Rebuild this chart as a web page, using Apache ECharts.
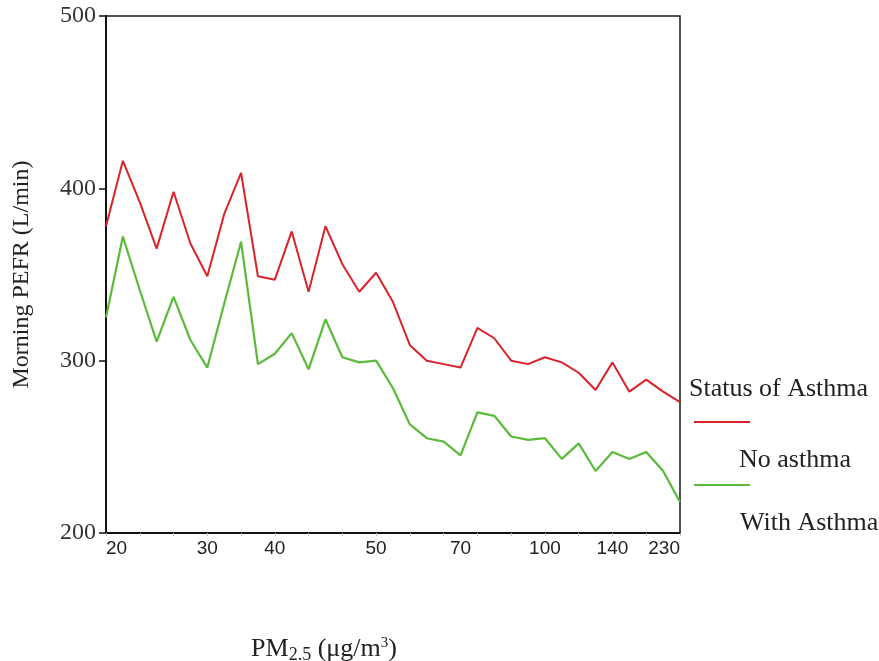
<!DOCTYPE html>
<html>
<head>
<meta charset="utf-8">
<script src="https://cdn.jsdelivr.net/npm/echarts@6/dist/echarts.min.js"></script>
<style>
html,body{margin:0;padding:0;background:#fff;}
#chart{width:879px;height:661px;}
</style>
</head>
<body>
<div id="chart"></div>
<script>
// PM2.5 categories (only some are labelled on the axis)
var pmCategories = ['20','','','','','','30','','','','40','','','','','','50','','','','','70','','','','','100','','','','140','','','','230'];
var noAsthma = [378,416,392,365,398,368,349,385,409,349,347,375,340,378,356,340,351,334,309,300,298,296,319,313,300,298,302,299,293,283,299,282,289,282,276];
var withAsthma = [325,372,341,311,337,312,296,333,369,298,304,316,295,324,302,299,300,284,263,255,253,245,270,268,256,254,255,243,252,236,247,243,247,236,218];
var yTicks = {min:200, max:500, step:100};
var seriesNames = ['No asthma','With Asthma'];
var legendTitle = 'Status of Asthma';

var chart = echarts.init(document.getElementById('chart'), null, {renderer:'canvas'});
var serif = '"Liberation Serif","DejaVu Serif",serif';
var sans = '"Liberation Sans",Arial,sans-serif';
var red = '#d9232b', green = '#5cba3a';

chart.setOption({
  backgroundColor:'#fff',
  animation:false,
  grid:{left:106, right:199, top:16, bottom:128, show:true, borderColor:'#1a1a1a', borderWidth:1.5,
    outerBoundsMode:'none', containLabel:false},
  xAxis:{
    type:'category', data:pmCategories, boundaryGap:false,
    axisLine:{lineStyle:{color:'#111', width:2}},
    axisTick:{show:true, length:3, interval:function(i){return i%2===0;}, lineStyle:{color:'#bbb', width:1}},
    axisLabel:{interval:function(i,v){return v!=='';}, fontFamily:sans, fontSize:19, color:'#222', margin:6,
      alignMinLabel:'left', alignMaxLabel:'right'},
    splitLine:{show:false},
    name:'{n|PM}{sub|2.5}{n| (μg/m}{sup|3}{n|)}',
    nameLocation:'middle', nameGap:102,
    nameTextStyle:{padding:[0,138,0,0], rich:{
      n:{fontFamily:serif, fontSize:26, color:'#222'},
      sub:{fontFamily:serif, fontSize:18, color:'#222', padding:[11,0,0,0]},
      sup:{fontFamily:serif, fontSize:15, color:'#222', padding:[0,0,12,0]}
    }}
  },
  yAxis:{
    type:'value', min:yTicks.min, max:yTicks.max, interval:yTicks.step,
    axisLine:{show:true, lineStyle:{color:'#111', width:2}},
    axisTick:{show:true, length:7, lineStyle:{color:'#111', width:1.5}},
    axisLabel:{fontFamily:serif, fontSize:24, color:'#333', margin:10},
    splitLine:{show:false},
    name:'Morning PEFR (L/min)', nameLocation:'middle', nameGap:72,
    nameTextStyle:{fontFamily:serif, fontSize:24, color:'#222'}
  },
  series:[
    {name:seriesNames[0], type:'line', data:noAsthma, symbol:'none', lineStyle:{color:red, width:2}, itemStyle:{color:red}},
    {name:seriesNames[1], type:'line', data:withAsthma, symbol:'none', lineStyle:{color:green, width:2.2}, itemStyle:{color:green}}
  ],
  graphic:[
    {type:'text', left:689, top:376, style:{text:legendTitle, font:'26px '+serif, fill:'#222'}},
    {type:'line', shape:{x1:694, y1:422, x2:750, y2:422}, style:{stroke:red, lineWidth:2}},
    {type:'text', left:739, top:447, style:{text:seriesNames[0], font:'26px '+serif, fill:'#222'}},
    {type:'line', shape:{x1:694, y1:485, x2:750, y2:485}, style:{stroke:green, lineWidth:2.2}},
    {type:'text', left:740, top:510, style:{text:seriesNames[1], font:'26px '+serif, fill:'#222'}}
  ]
});
</script>
</body>
</html>
